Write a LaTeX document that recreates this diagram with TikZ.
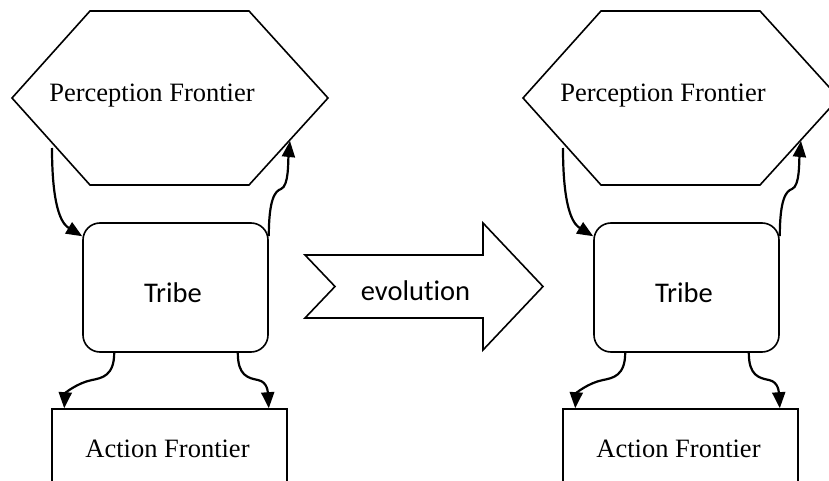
\documentclass[tikz,border=0pt]{standalone}
\usepackage{fontspec}
\setmainfont{Liberation Serif}
\newfontfamily\calfont[Ligatures=NoCommon]{Carlito}
\usetikzlibrary{arrows.meta}
\begin{document}
\begin{tikzpicture}[x=1pt,y=-1pt,
  outline/.style={draw,line width=1.6pt,line join=miter},
  conn/.style={line width=2.2pt,-{Triangle[length=16pt,width=13pt]}},
  serifl/.style={font=\fontsize{26.5}{30}\selectfont, inner sep=0pt, anchor=base},
  sansl/.style={font=\calfont\fontsize{28.5}{32}\selectfont, inner sep=0pt, anchor=base},
  tribebox/.style={draw, line width=1.6pt, rounded corners=17pt, minimum width=185pt, minimum height=129pt, inner sep=0pt},
  actbox/.style={draw, line width=1.6pt, minimum width=235pt, minimum height=92pt, inner sep=0pt}]
\useasboundingbox (0,0) rectangle (829,481);
\clip (0,0) rectangle (829,481);
\foreach \o/\p in {0/L,511/R}{
  % hexagon
  \coordinate (hW\p) at ({\o+12},98);
  \coordinate (hNW\p) at ({\o+90},11);
  \coordinate (hNE\p) at ({\o+249},11);
  \coordinate (hE\p) at ({\o+328},98);
  \coordinate (hSE\p) at ({\o+249},185);
  \coordinate (hSW\p) at ({\o+90},185);
  \draw[outline] (hW\p) -- (hNW\p) -- (hNE\p) -- (hE\p) -- (hSE\p) -- (hSW\p) -- cycle;
  \node[serifl] (perc\p) at ({\o+152},102) {Perception Frontier};
  % tribe
  \node[tribebox] (tribe\p) at ({\o+175.5},287.5) {};
  \node[sansl] (tribetxt\p) at ({\o+173},302) {Tribe};
  % action
  \node[actbox] (act\p) at ({\o+169.5},455) {};
  \node[serifl] (acttxt\p) at ({\o+167.5},457) {Action Frontier};
  % connectors
  \coordinate (pOut\p) at ({\o+52},148);
  \coordinate (pIn\p) at ({\o+290},141);
  \coordinate (bUp\p) at ({\o+281},189);
  \coordinate (bBL\p) at ({\o+92},380);
  \coordinate (bBR\p) at ({\o+258},380);
  \draw[conn] (pOut\p) .. controls +(0,67) and +(-18,-11) .. ([yshift=-14pt]tribe\p.north west);
  \draw[conn] ([yshift=-14pt]tribe\p.north east) .. controls +(0,-37) and +(-6,2) .. (bUp\p)
      .. controls +(8,-3) and +(-2,20) .. (pIn\p);
  \draw[conn] ([xshift=32pt]tribe\p.south west) .. controls +(0,23) and +(10,-2) .. (bBL\p)
      .. controls +(-15,3) and +(1,-15) .. ([xshift=13pt]act\p.north west);
  \draw[conn] ([xshift=-31pt]tribe\p.south east) .. controls +(0,23) and +(-10,-2) .. (bBR\p)
      .. controls +(10,2) and +(-1,-15) .. ([xshift=-19pt]act\p.north east);
}
% evolution arrow
\coordinate (e1) at (305,255);
\coordinate (e2) at (483,255);
\coordinate (e3) at (483,223);
\coordinate (e4) at (543,286.5);
\coordinate (e5) at (483,350);
\coordinate (e6) at (483,318);
\coordinate (e7) at (305,318);
\coordinate (e8) at (335,286.5);
\draw[outline] (e1) -- (e2) -- (e3) -- (e4) -- (e5) -- (e6) -- (e7) -- (e8) -- cycle;
\node[sansl] (evo) at (415.5,300) {evolution};
\end{tikzpicture}
\end{document}
